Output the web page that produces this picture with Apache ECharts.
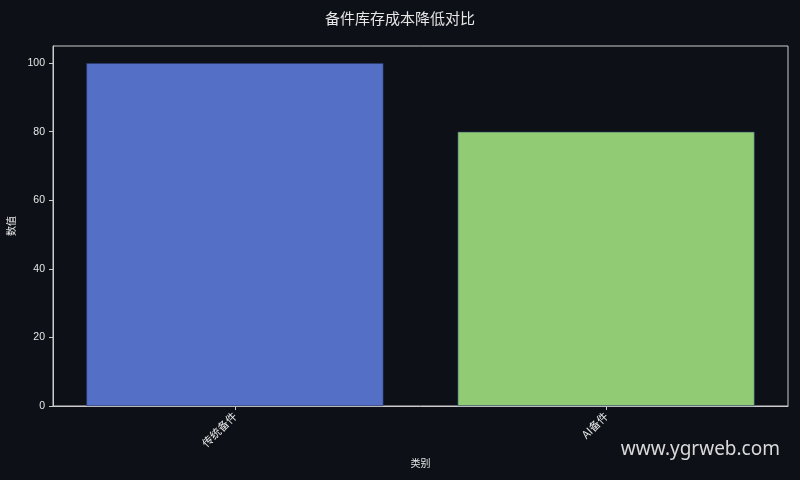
<!DOCTYPE html>
<html lang="zh">
<head>
  <meta charset="UTF-8">
  <script src="https://cdn.jsdelivr.net/npm/echarts@6.0.0/dist/echarts.min.js"></script>
  <title>备件库存成本降低对比</title>
  <style>
    html, body { margin: 0; padding: 0; background: #0d1017; }
    #chart { width: 800px; height: 480px; }
  </style>
</head>
<body>
  <div id="chart"></div>
  <script>
    const categories = ["传统备件", "AI备件"];
    const values = [100, 80];
    const barColors = ["#5470c6", "#91cc75"];
    const yTicks = [0, 20, 40, 60, 80, 100];

    const font = "'Noto Sans CJK SC', 'Liberation Sans', sans-serif";
    const chart = echarts.init(document.getElementById("chart"));

    chart.setOption({
      backgroundColor: "#0d1017",
      animation: false,
      title: {
        text: "备件库存成本降低对比",
        left: "center",
        top: 6,
        textStyle: { color: "#e6e6e6", fontSize: 15, fontWeight: "normal", fontFamily: font }
      },
      grid: {
        left: 53, right: 12, top: 46, bottom: 74,
        outerBoundsMode: "none",
        show: true, borderColor: "#cccccc", borderWidth: 1
      },
      xAxis: {
        type: "value",
        min: -0.49, max: 1.49,
        name: "类别",
        nameLocation: "middle",
        nameGap: 52,
        nameTextStyle: { color: "#e6e6e6", fontSize: 10, fontFamily: font },
        axisLine: { show: true, onZero: false, lineStyle: { color: "#cccccc" } },
        splitLine: { show: false },
        axisTick: { show: true, customValues: categories.map((c, i) => i), lineStyle: { color: "#cccccc" }, length: 4 },
        axisLabel: {
          customValues: categories.map((c, i) => i),
          formatter: (v) => categories[Math.round(v)],
          rotate: 45,
          color: "#e6e6e6",
          fontSize: 11,
          fontFamily: font,
          margin: 8
        }
      },
      yAxis: {
        type: "value",
        min: 0, max: 105,
        name: "数值",
        nameLocation: "middle",
        nameGap: 31,
        nameTextStyle: { color: "#e6e6e6", fontSize: 10, fontFamily: font },
        axisLine: { show: true, onZero: false, lineStyle: { color: "#cccccc" } },
        splitLine: { show: false },
        axisTick: { show: true, customValues: yTicks, lineStyle: { color: "#cccccc" }, length: 4 },
        axisLabel: { customValues: yTicks, color: "#e6e6e6", fontSize: 10.5, fontFamily: "'Liberation Sans', sans-serif", margin: 8 }
      },
      series: [{
        type: "bar",
        barWidth: 297,
        data: values.map((v, i) => ({
          value: [i, v],
          itemStyle: { color: barColors[i], borderColor: "#2a3a70", borderWidth: 0.6 }
        }))
      }],
      graphic: [{
        type: "text",
        right: 20,
        top: 440,
        style: { text: "www.ygrweb.com", fill: "#d9d9d9", fontSize: 19, fontFamily: "'Noto Sans', sans-serif" }
      }]
    });
  </script>
</body>
</html>
